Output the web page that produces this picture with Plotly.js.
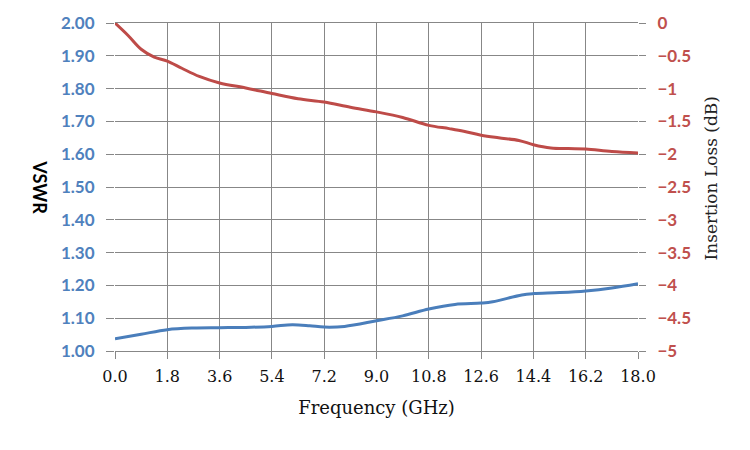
<!DOCTYPE html>
<html>
<head>
<meta charset="utf-8">
<script src="https://cdn.plot.ly/plotly-3.0.1.min.js"></script>
<style>
  html, body { margin: 0; padding: 0; background: #fff; }
  #chart { width: 750px; height: 450px; }
</style>
</head>
<body>
<div id="chart"></div>
<script>
// VSWR (left axis)
const vswrFreq = [0, 0.9, 1.8, 2.7, 3.6, 4.5, 5.4, 6.1, 6.7, 7.2, 7.9, 9.0, 9.9, 10.8, 11.7, 12.6, 13.0, 14.0, 14.4, 15.3, 16.2, 17.1, 18.0];
const vswr = [1.037, 1.051, 1.065, 1.070, 1.071, 1.072, 1.075, 1.080, 1.077, 1.073, 1.075, 1.092, 1.107, 1.128, 1.142, 1.146, 1.150, 1.171, 1.175, 1.178, 1.183, 1.192, 1.205];

// Insertion loss (right axis)
const ilFreq = [0, 0.45, 0.9, 1.35, 1.8, 2.3, 2.9, 3.6, 4.5, 5.4, 6.3, 7.2, 8.1, 9.0, 9.9, 10.8, 11.5, 12.0, 12.6, 13.2, 13.9, 14.4, 15.0, 15.6, 16.2, 17.1, 18.0];
const insLoss = [0, -0.19, -0.40, -0.52, -0.58, -0.69, -0.815, -0.915, -0.99, -1.075, -1.155, -1.205, -1.285, -1.355, -1.44, -1.56, -1.61, -1.65, -1.71, -1.75, -1.79, -1.855, -1.905, -1.915, -1.92, -1.96, -1.98];

const xTicks = [0, 1.8, 3.6, 5.4, 7.2, 9.0, 10.8, 12.6, 14.4, 16.2, 18.0];

const gridColor = "#878787";
const numFont = "Lato, Open Sans, sans-serif";
const serifFont = "DejaVu Serif, Liberation Serif, serif";

const traceVswr = {
    x: vswrFreq,
    y: vswr,
    type: "scatter",
    mode: "lines",
    name: "VSWR",
    line: { color: "#4a7ebb", width: 3, shape: "spline", smoothing: 1 },
    yaxis: "y"
};

const traceIl = {
    x: ilFreq,
    y: insLoss,
    type: "scatter",
    mode: "lines",
    name: "Insertion Loss",
    line: { color: "#be4b48", width: 3, shape: "spline", smoothing: 1 },
    yaxis: "y2"
};

const layout = {
    width: 750,
    height: 450,
    paper_bgcolor: "#fff",
    plot_bgcolor: "#fff",
    showlegend: false,
    margin: { l: 115, r: 112, t: 23, b: 99, pad: 0 },
    xaxis: {
        range: [0, 18],
        tickvals: xTicks,
        ticktext: xTicks.map(v => v.toFixed(1)),
        showgrid: true,
        gridcolor: gridColor,
        gridwidth: 1,
        zeroline: false,
        showline: true,
        linecolor: gridColor,
        mirror: true,
        ticks: "outside",
        ticklen: 7,
        tickcolor: gridColor,
        ticklabelstandoff: 4,
        tickfont: { family: serifFont, size: 16, color: "#111" },
        title: {
            text: "Frequency (GHz)",
            font: { family: serifFont, size: 18, color: "#111" },
            standoff: 16
        }
    },
    yaxis: {
        range: [1, 2],
        dtick: 0.1,
        tick0: 1,
        tickformat: ".2f",
        showgrid: true,
        gridcolor: gridColor,
        zeroline: false,
        showline: false,
        ticks: "outside",
        ticklen: 8,
        tickcolor: gridColor,
        ticklabelstandoff: 8,
        tickfont: { family: numFont, size: 17, color: "#4f81bd", weight: "bold" }
    },
    yaxis2: {
        range: [-5, 0],
        dtick: 0.5,
        tick0: 0,
        overlaying: "y",
        side: "right",
        showgrid: false,
        zeroline: false,
        showline: false,
        ticks: "outside",
        ticklen: 7,
        tickcolor: gridColor,
        ticklabelstandoff: 8,
        tickfont: { family: numFont, size: 17, color: "#c0504d", weight: "bold" }
    },
    annotations: [
        {
            text: "VSWR",
            xref: "paper", yref: "paper",
            x: -0.144, y: 0.5,
            xanchor: "center", yanchor: "middle",
            textangle: 90,
            showarrow: false,
            font: { family: numFont, size: 18, color: "#000", weight: "bold" }
        },
        {
            text: "Insertion Loss (dB)",
            xref: "paper", yref: "paper",
            x: 1.139, y: 0.525,
            xanchor: "center", yanchor: "middle",
            textangle: -90,
            showarrow: false,
            font: { family: serifFont, size: 17, color: "#222" }
        }
    ]
};

Plotly.newPlot("chart", [traceVswr, traceIl], layout, { responsive: false, displayModeBar: false });
</script>
</body>
</html>
